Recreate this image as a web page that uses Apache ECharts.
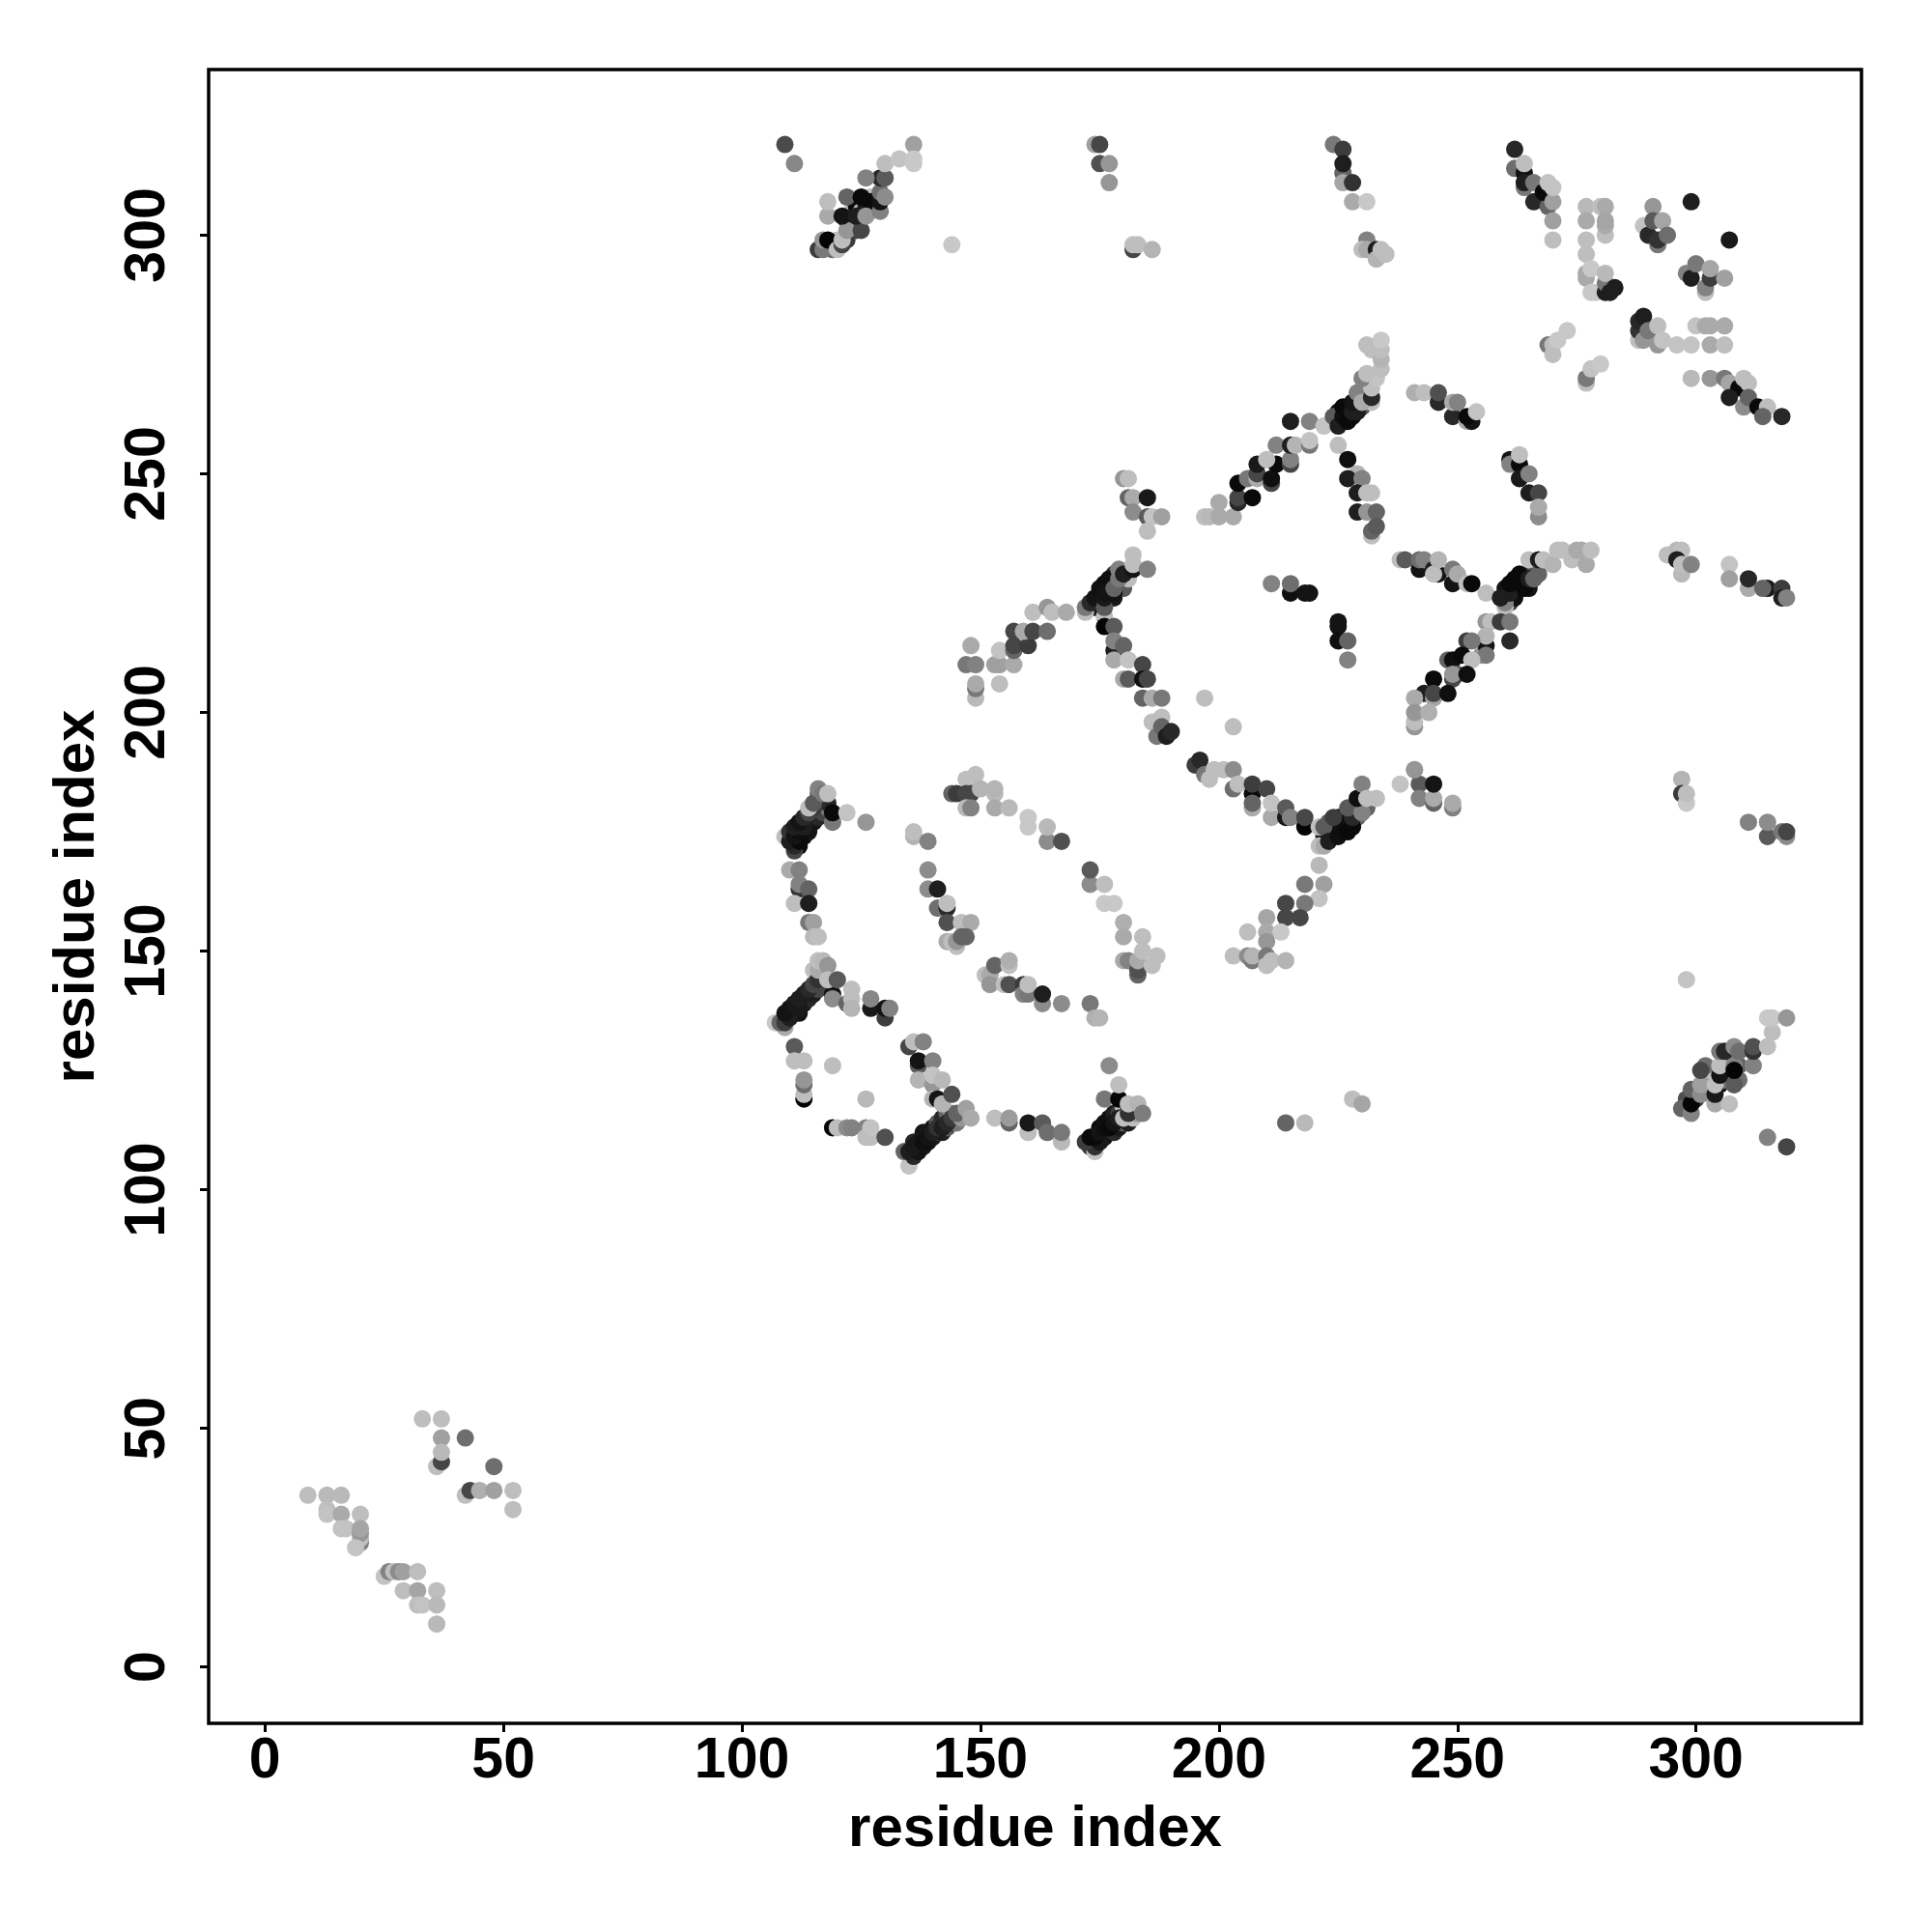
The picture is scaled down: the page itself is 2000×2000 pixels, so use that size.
<!DOCTYPE html>
<html><head><meta charset="utf-8"><style>html,body{margin:0;background:#fff}#c{width:2000px;height:2000px}</style>
<script src="https://cdn.jsdelivr.net/npm/echarts@6/dist/echarts.min.js"></script></head><body><div id="c"></div><script>
const tickValues=[0,50,100,150,200,250,300];
const axisTitle="residue index";
// each point: [residue x, residue y, gray level]
const bandA=[[110,174,25],[111,175,15],[112,176,15],[113,177,25],[114,178,30],[115,179,50],[116,180,90],[116,181,70],[116,182,190],[112,172,10],[113,174,15],[114,175,20],[115,177,20],[116,178,40],[117,179,70],[117,181,60],[118,180,120],[116,183,100],[118,181,40]];
const bandB=[[109,136,30],[110,137,15],[111,138,40],[112,139,20],[113,140,60],[114,141,30],[115,142,60],[116,143,110],[117,145,150],[117,146,90],[115,146,190],[111,137,25],[112,137,20],[113,139,25],[114,140,40],[115,141,30],[116,142,70]];
const bandC=[[136,110,40],[137,109,15],[138,109,30],[139,110,15],[140,111,25],[141,112,60],[142,112,30],[143,113,90],[144,114,50],[145,114,120],[146,116,70],[138,112,20],[139,112,25],[140,113,20],[141,114,90],[142,115,40],[143,116,100],[144,116,150]];
const bandD=[[174,110,15],[175,111,10],[176,111,20],[177,112,10],[178,112,40],[179,113,25],[180,114,90],[181,114,30],[182,115,190],[183,116,150],[175,113,10],[176,114,15],[177,115,15],[178,116,30],[179,116,60],[180,117,190],[181,117,90],[173,109,60]];
const bandE=[[174,222,30],[175,223,25],[176,223,20],[177,224,15],[178,224,25],[179,226,50],[180,226,90],[181,228,190],[175,225,15],[176,227,10],[177,226,20],[178,229,60],[179,229,170]];
const bandF=[[223,175,30],[224,175,10],[225,176,10],[226,176,15],[226,178,10],[227,177,15],[228,179,25],[229,178,100],[229,180,30],[231,180,100],[222,174,30],[223,177,90],[224,176,15]];
const bandG=[[225,261,10],[226,261,30],[227,263,10],[228,262,10],[228,264,15],[229,265,30],[230,264,90],[231,266,60],[231,267,190],[230,267,20],[232,265,190],[225,263,15],[224,261,60]];
const bandH=[[260,224,30],[261,223,60],[262,224,15],[263,226,15],[264,228,15],[265,229,20],[262,226,10],[263,228,10],[266,231,25],[266,230,80],[267,229,100],[262,228,15],[260,226,20],[265,226,20]];
const bandI=[[119,298,40],[120,299,190],[119,297,100],[122,299,60],[123,302,100],[123,304,170],[122,303,20],[123,305,190],[124,306,10],[125,305,190],[127,305,160],[126,306,30],[127,308,190],[124,301,70],[127,307,10]];
const bandJ=[[298,119,80],[300,119,60],[300,121,30],[302,122,20],[302,124,170],[303,122,10],[303,120,170],[303,123,120],[303,125,190],[302,126,110],[306,124,170],[307,125,130],[307,127,190],[306,127,100],[305,122,25],[306,123,120],[309,126,100],[309,123,110]];
const lowerLeft=[[9,36,190],[13,36,185],[16,36,185],[13,33,190],[13,32,195],[16,32,170],[20,32,190],[16,29,195],[17,29,195],[20,26,130],[20,27,190],[20,28,150],[20,29,165],[19,25,195],[25,19,195],[26,20,130],[27,20,190],[28,20,140],[29,20,160],[32,20,190],[29,16,190],[32,16,165],[36,16,190],[32,13,190],[33,13,195],[36,13,185],[36,9,185],
[33,52,190],[37,52,190],[37,48,160],[42,48,110],[36,42,190],[37,43,70],[37,45,185],[48,42,110],[42,36,190],[43,37,70],[45,37,175],[48,37,160],[52,37,190],[52,33,190]];
const arcA=[[111,171,70],[111,172,40],[109,174,190],[110,173,30],[112,173,10],[110,175,50],[111,174,20],[112,175,15],[111,176,30],[113,176,30],[112,177,20],[113,178,40],[114,179,70],[115,180,60],[114,180,190],[115,181,90],[116,184,130],[117,183,120],[118,183,190],[119,177,120],[119,179,10],[122,179,195],[126,177,150],
[110,167,170],[112,167,130],[112,163,50],[112,164,130],[114,163,100],[111,160,190],[114,160,30],[114,156,120],[115,156,160],[115,153,185],[116,153,190]];
const arcB=[[107,135,200],[109,134,170],[108,135,100],[109,135,60],[110,136,30],[109,137,20],[110,138,20],[112,138,25],[111,139,25],[112,140,30],[113,141,30],[114,142,40],[115,143,70],[116,144,50],[116,146,170],[116,148,190],[117,148,185],[118,147,150],
[119,141,20],[119,140,140],[118,144,190],[120,144,90],[123,142,190],[122,139,100],[123,140,190],[123,138,180],[127,138,25],[127,140,135],[130,136,60],[130,138,20],[131,138,130],
[111,130,90],[111,127,190],[113,127,190],[113,119,5],[113,120,190],[113,122,110],[113,123,150],[119,126,190],[126,119,185],
[119,113,5],[120,113,190],[122,113,140],[123,113,130],[126,113,130],[126,111,190],[127,111,190],[127,113,195],[130,111,80]];
const arcC=[[135,105,195],[134,108,100],[136,107,40],[135,108,30],[137,108,20],[136,109,25],[137,110,25],[138,110,15],[139,111,20],[140,112,30],[141,113,50],[142,113,30],[143,114,40],[144,115,60],[146,115,150],[145,116,100],[147,117,160],[148,115,170],
[135,130,70],[136,131,190],[138,131,130],[137,126,90],[137,127,20],[140,127,130],[137,123,180],[140,122,150],[140,124,195],[142,123,185],[140,119,180],[141,119,20],[142,118,180],[144,120,80],
[153,115,190],[156,114,100],[156,115,155],[160,112,190],[160,114,25],[163,114,90],[164,112,110],[167,110,185],[167,112,120],
[174,108,195],[174,109,50],[172,110,60],[175,110,25],[173,111,10],[174,111,10],[175,112,20],[176,113,15],[177,113,10],[178,114,20],[179,115,30],[180,115,190],[181,116,50],[176,119,120],[179,119,5],[181,118,190],[183,118,180],[184,116,125],[177,126,140],[179,122,190]];
const arcD=[[136,174,180],[136,175,190],[139,173,130],[139,167,140],[139,163,140],[141,163,30],[141,159,110],[143,159,40],[143,160,190],[143,156,80],[146,156,190],[148,156,170],[143,152,170],[145,151,190],[144,152,190],[145,152,150],[146,153,100],[147,153,100],
[147,186,190],[149,187,190],[144,183,100],[145,183,60],[147,183,70],[148,183,70],[147,180,185],[148,180,130],[150,184,180],[153,183,185],[153,184,180],[153,180,170],[156,180,185],[160,176,200],[160,178,200],[164,173,140],[164,176,185],[167,173,80],
[173,164,140],[173,167,90],[176,164,190],[176,160,200],[178,160,200],[180,156,175],[180,153,170],[184,153,190],[180,148,170],[181,148,130],[183,145,100],[183,146,80],[183,148,170],[184,150,190],[186,147,190],[187,149,190]];
const arcE=[[151,145,190],[152,145,170],[152,143,150],[153,147,100],[156,147,190],[156,148,175],[155,143,190],[156,143,80],[159,143,60],[159,141,130],[160,141,120],[160,143,190],[163,139,140],[163,141,30],[167,139,140],[173,139,120],[174,136,175],[175,136,180]];
const topLeft=[[109,319,75],[111,315,135],[116,297,60],[117,297,120],[117,299,150],[118,299,5],[120,297,190],[121,298,70],[121,299,190],[122,301,150],[125,301,70],[118,304,170],[118,307,190],[121,304,20],[124,304,30],[126,304,150],[122,308,100],[125,308,10],[129,305,130],[129,307,20],[129,309,110],[130,308,140],[129,312,40],[126,312,130],[130,312,90],[130,315,190],[133,316,195],[136,319,160],[136,316,200],[136,315,200],[144,298,200],
[174,319,160],[175,319,70],[175,315,80],[177,315,150],[177,311,150],[182,297,70],[182,298,190],[183,298,190],[186,297,180]];
const topMid=[[224,319,120],[226,318,60],[226,313,100],[226,315,30],[226,311,165],[228,311,50],[228,307,170],[231,307,200],[231,299,130],[230,297,190],[231,297,170],[233,297,30],[233,295,180],[234,297,190],[235,296,190]];
const ridgeA=[[197,241,190],[198,241,185],[200,241,170],[203,241,170],[200,244,170],[204,244,40],[204,245,70],[207,245,10],[204,248,10],[206,249,120],[208,249,170],[208,250,70],[208,252,25],[211,248,70],[211,249,15],[212,252,10],[210,253,190],[215,252,70],[215,253,130],[212,256,130],[215,256,30],[216,256,180],[219,256,120],[219,257,195],[215,261,30],[219,261,130],[222,260,195],
[224,262,90],[225,260,30],[226,262,15],[227,261,10],[226,264,10],[228,263,30],[229,263,30],[228,265,20],[229,267,130],[230,265,170],[232,266,40],[232,268,190],[230,270,130],[233,270,195],[231,271,190],[234,272,190],[231,277,190],[232,276,190],[234,274,180],[234,276,190],[234,278,200]];
const ridgeB=[[225,256,190],[227,253,15],[229,250,180],[227,249,30],[230,249,130],[229,246,30],[231,246,190],[232,246,190],[229,242,30],[231,242,150],[233,242,100],[232,237,190],[232,238,100],[233,239,90],
[180,249,150],[181,249,190],[181,245,100],[182,245,170],[185,245,25],[182,242,140],[185,241,90],[186,241,195],[188,241,160],[185,238,190],
[172,221,190],[172,222,120],[173,223,40],[174,224,20],[175,226,15],[176,220,190],[176,222,90],[176,224,25],[176,225,20],[177,228,15],[178,225,20],[178,226,100],[179,228,120],[179,230,130],[180,229,30],[182,230,20],[182,231,190],[182,233,190],[185,230,130],
[176,218,5],[178,218,90],[178,213,30],[178,215,130],[180,214,100],[178,211,170],[181,211,195],[184,210,70],[180,207,170],[181,207,90],[184,207,15],[185,207,70],[184,203,100],[186,203,170],[188,203,120],[186,198,190],[188,199,190],[187,195,120],[188,197,100],[189,195,30],[190,196,40]];
const ridgeC=[[148,214,170],[147,210,120],[149,210,130],[149,203,185],[149,205,120],[149,206,170],[154,206,190],[153,210,160],[154,210,160],[157,210,170],[154,213,195],[157,213,100],[157,214,70],[160,214,60],[157,217,70],[159,217,170],[161,217,70],[164,217,110],[161,221,190],[164,222,150],[165,221,190],[168,221,170],
[211,227,130],[215,225,15],[215,227,110],[218,225,20],[219,225,20],[225,218,20],[225,219,20],[225,215,15],[227,215,100],[227,211,130],[197,203,190],[203,197,190]];
const ridgeD=[[195,189,60],[196,190,40],[197,187,120],[198,186,190],[199,188,190],[201,188,190],[203,184,110],[203,188,140],[204,185,190],[207,183,10],[207,185,60],[210,184,70],[207,180,170],[207,181,100],[211,178,170],[211,181,195],[214,178,25],[214,180,90],[215,178,130],[218,176,5],[218,178,70],
[221,172,190],[222,172,170],[221,176,190],[222,176,90],[223,173,30],[225,174,15],[227,175,10],[228,176,10],[225,178,15],[224,178,60],[228,178,40],[227,180,90],[230,179,130],[229,182,15],[230,185,130],[231,182,190],[233,182,190],
[238,185,195],[241,188,160],[242,185,90],[242,182,130],[245,181,100],[245,182,170],[245,185,20],[249,180,130],[249,181,170],
[221,168,185],[218,164,120],[222,164,160],[221,161,195],[214,160,70],[218,160,120],[214,157,70],[217,157,70],[210,157,165],[210,154,170],[206,154,190],[213,154,200],[210,152,150],[203,149,190],[206,149,140],[207,148,120],[207,149,180],[210,149,120],[210,147,190],[211,148,190],[214,148,180]];
const ridgeE=[[238,232,190],[239,232,90],[242,230,20],[242,232,110],[243,232,130],[245,230,30],[246,229,20],[245,229,190],[246,232,180],[249,227,20],[249,230,120],[250,229,170],[252,227,190],[253,227,10],[256,225,190],
[260,222,190],[260,223,130],[259,224,30],[261,225,30],[261,227,10],[263,229,10],[264,226,10],[265,228,30],[266,228,100],[265,232,190],[267,232,30],[268,232,190],[270,231,180],[271,234,190],[272,234,190],[274,232,190],[275,234,170],[276,234,170],[277,231,170],[278,234,190],
[256,219,150],[257,219,190],[259,219,60],[261,219,120],[261,215,40],[255,212,150],[256,214,20],[256,216,180],[252,215,60],[253,215,120],[256,212,120],[248,211,100],[249,211,15],[251,212,10],[253,211,190],[250,208,90],[249,207,70],[249,208,150],[252,208,15],[245,207,10],[243,204,30],[245,203,165],[245,204,70],[248,204,15],[241,203,170],[241,197,150],[241,198,190],[241,200,150],[244,200,175],
[241,188,150]];
const rightUpper=[[262,318,40],[262,314,110],[264,313,20],[264,315,190],[264,310,120],[264,311,30],[266,311,120],[266,307,40],[269,306,100],[268,309,10],[270,307,160],[269,311,195],[270,310,195],[270,303,160],[270,299,190],
[277,306,185],[280,306,190],[281,306,170],[277,303,170],[281,300,190],[281,302,170],[281,303,165],[277,299,190],[277,296,190],[277,291,170],[277,292,170],[278,293,200],[278,288,200],[279,288,200],[281,288,30],[281,290,120],[281,292,185],[282,288,30],[283,289,30],
[291,306,150],[289,302,195],[290,300,40],[291,303,90],[292,298,120],[292,299,50],[293,303,165],[294,300,110],
[299,307,30],[307,299,25],[298,292,130],[299,291,30],[300,294,120],[302,288,190],[302,289,130],[303,291,60],[303,293,165],[306,291,160],
[288,278,190],[288,280,50],[288,282,40],[289,283,30],[289,278,150],[290,280,120],[292,277,150],[292,281,190],[293,278,195],[296,277,195],[299,277,195],[300,281,195],[302,281,170],[303,281,170],[306,281,170],[303,277,170],[306,277,190],
[269,277,120],[270,275,190],[270,277,190],[271,278,200],[273,280,200],[277,269,190],[277,270,120],[278,272,195],[280,273,200]];
const rightLower=[[299,270,185],[303,270,150],[306,270,120],[307,269,165],[309,268,10],[310,270,190],[311,269,190],[307,266,30],[310,264,140],[311,266,100],[313,264,10],[315,264,190],[314,262,100],[318,262,40],
[241,267,175],[243,267,190],[246,265,40],[246,267,80],[249,262,40],[249,265,170],[250,265,130],[252,261,170],[253,261,20],[252,262,10],[254,263,195],
[261,253,20],[261,252,130],[263,252,10],[263,254,190],[263,249,25],[265,250,130],[265,246,30],[267,246,70],[267,241,140],[267,243,170],
[294,233,190],[296,234,185],[297,234,190],[296,232,30],[297,229,185],[297,231,190],[299,231,130],
[307,231,195],[307,228,160],[311,226,170],[311,228,40],[315,226,25],[314,226,100],[318,226,60],[318,224,30],[319,224,130],
[297,186,180],[297,183,60],[298,181,200],[298,183,190],[311,177,130],[315,174,90],[315,177,140],[318,175,120],[319,174,140],[319,175,70],[298,144,195]];
const rightCluster=[[297,117,100],[299,116,130],[299,118,5],[299,121,100],[301,120,140],[301,122,160],[301,125,70],[304,118,170],[304,120,25],[304,122,190],[305,124,20],[305,126,190],[305,129,120],[306,129,40],[308,122,90],[308,126,130],[308,125,5],[308,130,140],[309,129,110],[312,126,130],[312,129,50],[312,130,80],[307,118,190],[315,130,190],[316,133,190],[315,136,200],[316,136,200],[319,136,150],
[214,114,100],[218,114,185],[228,119,190],[230,118,165],[315,111,130],[319,109,70]];
const groups=[bandA,bandB,bandC,bandD,bandE,bandF,bandG,bandH,bandI,bandJ,lowerLeft,arcA,arcB,arcC,arcD,arcE,topLeft,topMid,ridgeA,ridgeB,ridgeC,ridgeD,ridgeE,rightUpper,rightLower,rightCluster];
const points=groups.flat();
const F='"Liberation Sans",Arial,sans-serif';
const axis=(extra)=>Object.assign({type:'value',min:-11.8,max:334.7,name:axisTitle,nameLocation:'middle',
 nameTextStyle:{fontFamily:F,fontWeight:'bold',fontSize:60,color:'#000'},
 splitLine:{show:false},axisLine:{show:false,onZero:false},
 axisTick:{show:true,length:9,inside:false,lineStyle:{color:'#000',width:3},customValues:tickValues},
 },extra);
const chart=echarts.init(document.getElementById('c'),null,{renderer:'canvas'});
chart.setOption({animation:false,backgroundColor:'#fff',
 grid:{left:216,right:73,top:72,bottom:216,show:true,borderColor:'#000',borderWidth:3.5,backgroundColor:'transparent'},
 xAxis:axis({nameGap:80,axisLabel:{show:true,customValues:tickValues,fontFamily:F,fontWeight:'bold',fontSize:59,color:'#000',margin:10}}),
 yAxis:axis({nameGap:106,axisLabel:{show:true,customValues:tickValues,rotate:90,fontFamily:F,fontWeight:'bold',fontSize:59,color:'#000',margin:62,verticalAlign:'middle',align:'center'}}),
 series:[{type:'scatter',symbol:'circle',symbolSize:18,itemStyle:{opacity:1},
  data:points.map(p=>({value:[p[0],p[1]],itemStyle:{color:`rgb(${p[2]},${p[2]},${p[2]})`,opacity:1}}))}]
});
</script></body></html>
